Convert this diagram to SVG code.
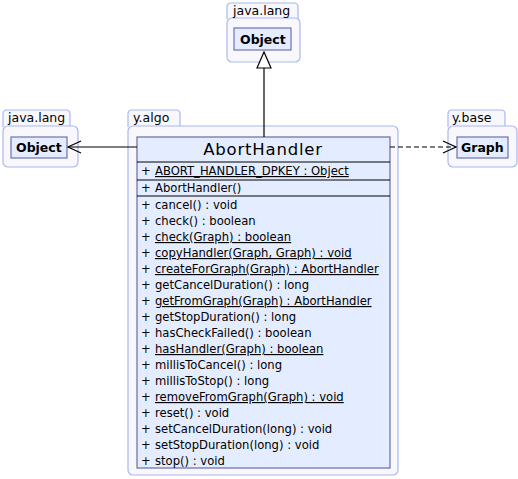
<svg xmlns="http://www.w3.org/2000/svg" width="518" height="479" viewBox="0 0 518 479">
<style>
.pkg{fill:#f8f8fc;stroke:#aab8f0;stroke-width:1.2}
.box{fill:#e4edff;stroke:#7070b0;stroke-width:1.2}
.pt{font-family:"DejaVu Sans",sans-serif;font-size:12.5px;fill:#000}
.bt{font-family:"DejaVu Sans",sans-serif;font-size:12.5px;font-weight:bold;fill:#000}
.m{font-family:"DejaVu Sans",sans-serif;font-size:11.6px;fill:#000}
.s{text-decoration:underline}
.sep{stroke:#000;stroke-width:1}
.cl{fill:#e4edff;stroke:#6a6aa8;stroke-width:1.2}
</style>
<g id="pkg-java-lang-top">
<path class="pkg" d="M227,19 V7 Q227,3 231,3 H294 Q298,3 298,7 V19"/>
<rect class="pkg" x="227" y="18" width="73" height="44" rx="5"/>
<text class="pt" x="233" y="15">java.lang</text>
<rect class="box" x="234" y="28" width="57" height="22"/>
<text class="bt" x="240" y="44">Object</text>
</g>
<g id="pkg-java-lang-left">
<path class="pkg" d="M3,127 V114 Q3,110 7,110 H66 Q70,110 70,114 V127"/>
<rect class="pkg" x="3" y="126" width="75" height="41" rx="5"/>
<text class="pt" x="8" y="122">java.lang</text>
<rect class="box" x="11" y="137" width="56" height="21"/>
<text class="bt" x="16" y="152">Object</text>
</g>
<g id="pkg-y-base">
<path class="pkg" d="M448,127 V114 Q448,110 452,110 H501 Q505,110 505,114 V127"/>
<rect class="pkg" x="448" y="126" width="69" height="41" rx="5"/>
<text class="pt" x="452" y="122">y.base</text>
<rect class="box" x="457" y="137" width="51" height="21"/>
<text class="bt" x="461" y="152">Graph</text>
</g>
<g id="pkg-y-algo">
<path class="pkg" d="M128,127 V114 Q128,110 132,110 H176 Q180,110 180,114 V127"/>
<rect class="pkg" x="128" y="126" width="270" height="349" rx="5"/>
<text class="pt" x="133" y="122">y.algo</text>
</g>
<g id="AbortHandler">
<rect class="cl" x="137" y="137" width="253" height="331"/>
<text x="263" y="155" text-anchor="middle" style="font-family:'DejaVu Sans',sans-serif;font-size:16.5px;letter-spacing:0.8px">AbortHandler</text>
<line class="sep" x1="137" y1="162" x2="390" y2="162"/>
<line class="sep" x1="137" y1="180" x2="390" y2="180"/>
<line class="sep" x1="137" y1="196" x2="390" y2="196"/>
<g class="m">
<text x="141" y="175">+</text><text class="s" x="155" y="175">ABORT_HANDLER_DPKEY : Object</text>
<text x="141" y="192">+</text><text x="155" y="192">AbortHandler()</text>
<text x="141" y="209">+</text><text x="155" y="209">cancel() : void</text>
<text x="141" y="225">+</text><text x="155" y="225">check() : boolean</text>
<text x="141" y="241">+</text><text class="s" x="155" y="241">check(Graph) : boolean</text>
<text x="141" y="257">+</text><text class="s" x="155" y="257">copyHandler(Graph, Graph) : void</text>
<text x="141" y="273">+</text><text class="s" x="155" y="273">createForGraph(Graph) : AbortHandler</text>
<text x="141" y="289">+</text><text x="155" y="289">getCancelDuration() : long</text>
<text x="141" y="305">+</text><text class="s" x="155" y="305">getFromGraph(Graph) : AbortHandler</text>
<text x="141" y="321">+</text><text x="155" y="321">getStopDuration() : long</text>
<text x="141" y="337">+</text><text x="155" y="337">hasCheckFailed() : boolean</text>
<text x="141" y="353">+</text><text class="s" x="155" y="353">hasHandler(Graph) : boolean</text>
<text x="141" y="369">+</text><text x="155" y="369">millisToCancel() : long</text>
<text x="141" y="385">+</text><text x="155" y="385">millisToStop() : long</text>
<text x="141" y="401">+</text><text class="s" x="155" y="401">removeFromGraph(Graph) : void</text>
<text x="141" y="417">+</text><text x="155" y="417">reset() : void</text>
<text x="141" y="433">+</text><text x="155" y="433">setCancelDuration(long) : void</text>
<text x="141" y="449">+</text><text x="155" y="449">setStopDuration(long) : void</text>
<text x="141" y="465">+</text><text x="155" y="465">stop() : void</text>
</g>
</g>
<g id="connectors" fill="none" stroke="#000" stroke-width="1.2">
<line x1="264" y1="137" x2="264" y2="68"/>
<path d="M264,52 L257,68 H271 Z" fill="#fff"/>
<line x1="137" y1="147" x2="68" y2="147"/>
<path d="M81,141 L68,147 L81,153"/>
<line x1="390" y1="147" x2="456" y2="147" stroke-dasharray="5,3"/>
<path d="M443,141 L456,147 L443,153"/>
</g>
</svg>
